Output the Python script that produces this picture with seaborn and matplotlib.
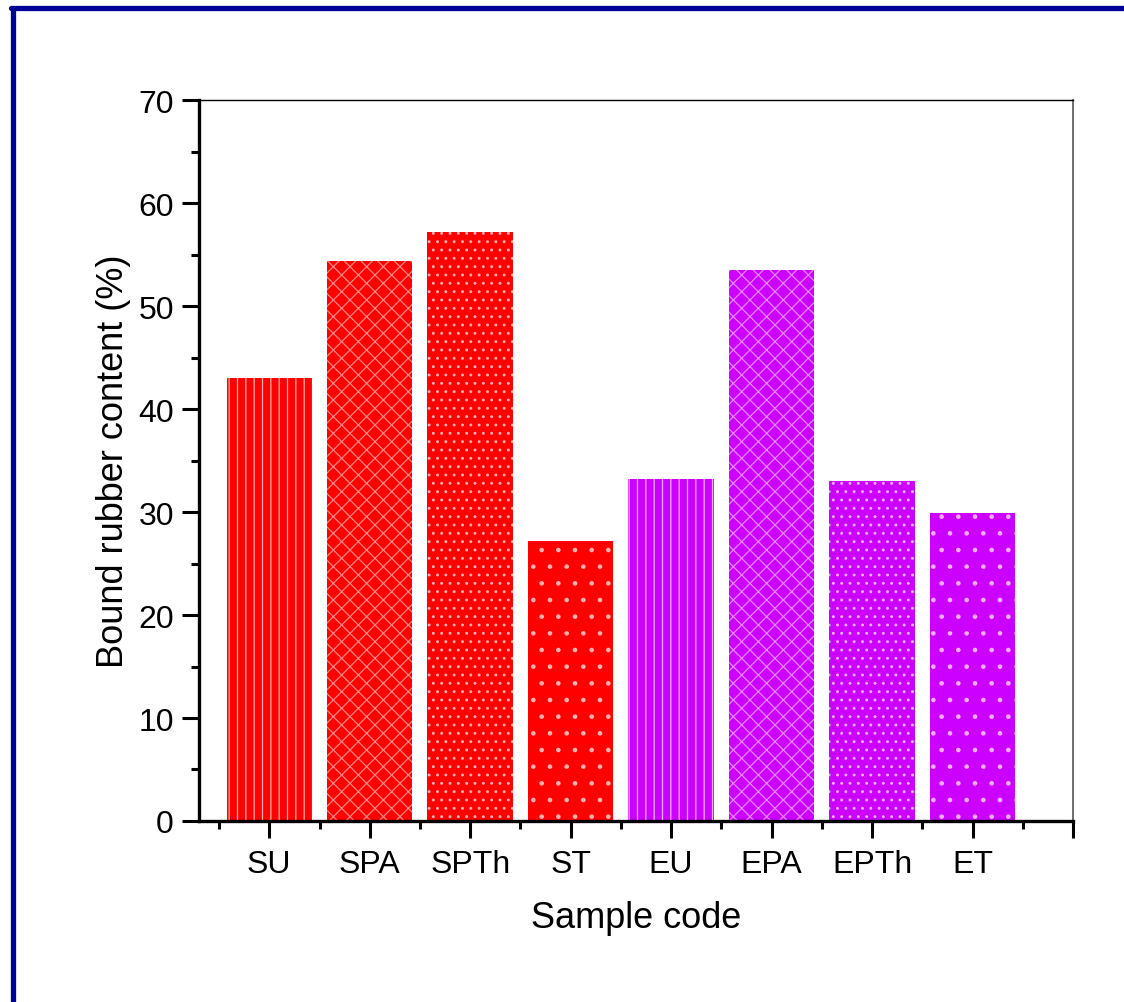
import matplotlib
matplotlib.use("Agg")
import matplotlib.pyplot as plt
from matplotlib.lines import Line2D
from matplotlib.ticker import FixedLocator, MultipleLocator
import pandas as pd
import seaborn as sns

# Bound rubber content of the filled rubber compounds
samples = ["SU", "SPA", "SPTh", "ST", "EU", "EPA", "EPTh", "ET"]
bound_rubber = [43.0, 54.4, 57.2, 27.2, 33.2, 53.5, 33.0, 29.9]
bar_colors = ["#FF0000"] * 4 + ["#CC00FF"] * 4
dot_colors = ["#FFB0B0"] * 4 + ["#F0B0FF"] * 4
patterns = ["||", "xx", "..", ".", "||", "xx", "..", "."]

sns.set_theme(style="ticks")
plt.rcParams["font.family"] = ["Liberation Sans", "DejaVu Sans"]
plt.rcParams["hatch.linewidth"] = 0.9
plt.rcParams["text.color"] = "black"
plt.rcParams["axes.labelcolor"] = "black"

df = pd.DataFrame({"sample": samples, "content": bound_rubber})

fig = plt.figure(figsize=(11.24, 10.03), dpi=100)
ax = fig.add_axes([0.177, 0.1805, 0.7776, 0.7185])

sns.barplot(data=df, x="sample", y="content", hue="sample",
            palette=dict(zip(samples, bar_colors)), order=samples,
            hue_order=samples, width=0.85, legend=False, ax=ax,
            saturation=1)

for container, dc, hp in zip(ax.containers, dot_colors, patterns):
    for bar in container:
        bar.set_hatch(hp)
        if hp == "xx":
            bar.set_edgecolor(matplotlib.colors.to_rgba(dc, 0.75))
        else:
            bar.set_edgecolor(dc)
        bar.set_linewidth(0)

ax.set_xlim(-0.7, 8.0)
ax.set_ylim(0, 70)
ax.xaxis.set_major_locator(FixedLocator(range(9)))
ax.set_xticklabels(samples + [""])
ax.xaxis.set_minor_locator(FixedLocator([i - 0.5 for i in range(9)]))
ax.yaxis.set_major_locator(MultipleLocator(10))
ax.yaxis.set_minor_locator(MultipleLocator(5))

ax.tick_params(which="major", length=12, width=2.2, labelsize=23, pad=6,
               color="black", labelcolor="black")
ax.tick_params(which="minor", length=6, width=2.2, color="black")
ax.tick_params(axis="x", which="major", pad=8)

for side in ("left", "bottom"):
    ax.spines[side].set_linewidth(2.4)
    ax.spines[side].set_color("black")
ax.spines["top"].set_visible(True)
ax.spines["right"].set_visible(True)
ax.spines["top"].set_linewidth(1.0)
ax.spines["top"].set_color("black")
ax.spines["right"].set_linewidth(1.2)
ax.spines["right"].set_color("#555555")

ax.set_xlabel("Sample code", fontsize=26, labelpad=15, color="black")
ax.set_ylabel("Bound rubber content (%)", fontsize=26, labelpad=5,
              color="black")

# frame along the left and top edges of the figure
fig.add_artist(Line2D([0.0115, 0.0115], [0.0, 0.9915], color="#000099",
                      linewidth=3.8, transform=fig.transFigure))
fig.add_artist(Line2D([0.0095, 1.0], [0.9915, 0.9915], color="#000099",
                      linewidth=3.8, transform=fig.transFigure))

fig.savefig("out.png", dpi=100)
